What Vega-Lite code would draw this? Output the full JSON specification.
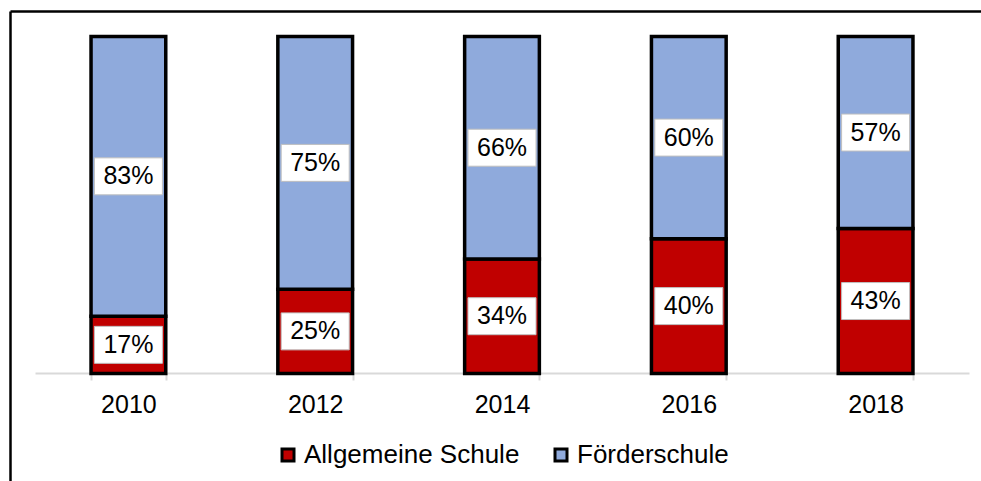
{
  "$schema": "https://vega.github.io/schema/vega-lite/v6.json",
  "width": 971,
  "height": 470,
  "autosize": "none",
  "padding": {"left": 10, "top": 11, "right": 0, "bottom": 0},
  "background": "white",
  "config": {
    "view": {"stroke": null},
    "font": "Liberation Sans"
  },
  "data": {
    "values": [
      {"year": "2010", "type": "Allgemeine Schule", "value": 0.17},
      {"year": "2010", "type": "Förderschule", "value": 0.83},
      {"year": "2012", "type": "Allgemeine Schule", "value": 0.25},
      {"year": "2012", "type": "Förderschule", "value": 0.75},
      {"year": "2014", "type": "Allgemeine Schule", "value": 0.34},
      {"year": "2014", "type": "Förderschule", "value": 0.66},
      {"year": "2016", "type": "Allgemeine Schule", "value": 0.40},
      {"year": "2016", "type": "Förderschule", "value": 0.60},
      {"year": "2018", "type": "Allgemeine Schule", "value": 0.43},
      {"year": "2018", "type": "Förderschule", "value": 0.57}
    ]
  },
  "layer": [
    {
      "encoding": {
        "x": {
          "field": "year",
          "type": "nominal",
          "scale": {"range": [25, 959], "paddingInner": 0.6, "paddingOuter": 0.3},
          "axis": {
            "orient": "bottom",
            "title": null,
            "labelAngle": 0,
            "offset": -108,
            "domainColor": "#d9d9d9",
            "domainWidth": 2,
            "tickColor": "#d9d9d9",
            "tickWidth": 2,
            "tickSize": 7,
            "tickBand": "extent",
            "labelFontSize": 25,
            "labelFont": "Liberation Sans",
            "labelColor": "black",
            "labelPadding": 12,
            "grid": false
          }
        },
        "order": {"field": "type"}
      },
      "layer": [
        {
          "mark": {"type": "bar", "stroke": "black", "strokeWidth": 3.5},
          "encoding": {
            "y": {
              "field": "value",
              "type": "quantitative",
              "stack": "zero",
              "scale": {"domain": [0, 1], "range": [362.5, 25.5], "nice": false, "zero": true},
              "axis": null
            },
            "color": {
              "field": "type",
              "type": "nominal",
              "scale": {"domain": ["Allgemeine Schule", "Förderschule"], "range": ["#c00000", "#8faadc"]},
              "legend": {
                "orient": "none",
                "legendX": 265,
                "legendY": 431,
                "direction": "horizontal",
                "title": null,
                "padding": 0,
                "labelFontSize": 26,
                "labelFont": "Liberation Sans",
                "labelColor": "black",
                "labelLimit": 0,
                "symbolType": "square",
                "symbolSize": 144,
                "symbolStrokeColor": "black",
                "symbolStrokeWidth": 3,
                "columnPadding": 28,
                "labelOffset": 3
              }
            }
          }
        },
        {
          "mark": {
            "type": "point",
            "shape": "M-1,-0.544L1,-0.544L1,0.544L-1,0.544Z",
            "size": 4624,
            "filled": true,
            "fill": "white",
            "stroke": "#bfbfbf",
            "strokeWidth": 1,
            "opacity": 1
          },
          "encoding": {
            "y": {"field": "value", "type": "quantitative", "stack": "zero", "bandPosition": 0.5},
            "detail": {"field": "type"}
          }
        },
        {
          "mark": {"type": "text", "fontSize": 25, "font": "Liberation Sans", "color": "black", "baseline": "middle", "align": "center"},
          "encoding": {
            "y": {"field": "value", "type": "quantitative", "stack": "zero", "bandPosition": 0.5},
            "detail": {"field": "type"},
            "text": {"field": "value", "type": "quantitative", "format": ".0%"}
          }
        }
      ]
    },
    {
      "mark": {"type": "point", "opacity": 0},
      "encoding": {
        "x": {
          "field": "year",
          "type": "nominal",
          "axis": {"orient": "top", "title": null, "labels": false, "ticks": false, "domainColor": "black", "domainWidth": 2.5, "grid": false}
        },
        "y": {
          "field": "value",
          "type": "quantitative",
          "axis": {"orient": "left", "title": null, "labels": false, "ticks": false, "domainColor": "black", "domainWidth": 2.5, "grid": false}
        }
      }
    }
  ],
  "resolve": {
    "scale": {"x": "independent", "y": "independent"},
    "axis": {"x": "independent", "y": "independent"}
  }
}
